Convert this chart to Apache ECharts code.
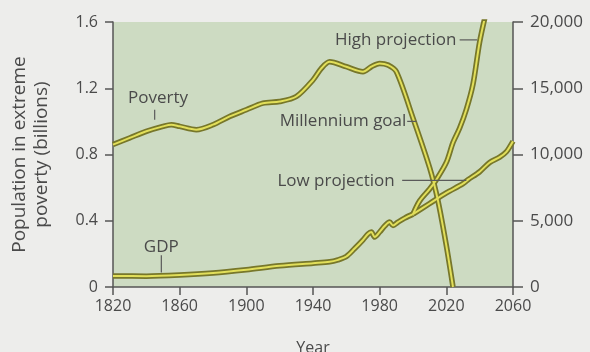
<!DOCTYPE html>
<html><head><meta charset="utf-8">
<script src="https://cdn.jsdelivr.net/npm/echarts@6/dist/echarts.min.js"></script>
<style>html,body{margin:0;padding:0;background:#ededeb;}#c{width:590px;height:352px;}</style>
</head><body><div id="c"></div>
<script>
// Poverty (billions) – left axis
const povertyYears = [1820,1830,1840,1850,1855,1860,1870,1880,1890,1900,1910,1920,1930,1940,1945,1950,1960,1970,1975,1980,1985,1990,2000,2010,2015,2020,2024];
const povertyVals  = [0.86,0.90,0.94,0.97,0.98,0.97,0.95,0.98,1.03,1.07,1.11,1.12,1.15,1.25,1.32,1.36,1.33,1.30,1.33,1.35,1.34,1.30,1.02,0.72,0.52,0.25,0.0];
// GDP per capita – right axis
const gdpYears = [1820,1840,1860,1880,1900,1920,1940,1950,1955,1960,1965,1970,1973,1975,1977,1980,1983,1986,1988,1991,1995,2000];
const gdpVals  = [830,820,900,1050,1300,1600,1800,1900,2050,2300,2900,3550,4000,4150,3770,4150,4600,4900,4650,4900,5200,5500];
const highYears = [2000,2004,2010,2014,2020,2024,2028,2032,2036,2040,2044];
const highVals  = [5500,6500,7400,8100,9400,10900,12000,13400,15300,18500,20800];
const lowYears = [2000,2010,2020,2030,2033,2040,2046,2052,2056,2060];
const lowVals  = [5500,6300,7100,7800,8100,8700,9400,9800,10200,11000];
const xTicks = [1820,1860,1900,1940,1980,2020,2060];
const leftTicks = [0,0.4,0.8,1.2,1.6];
const rightTicks = [0,5000,10000,15000,20000];

const zip = (a,b)=>a.map((x,i)=>[x,b[i]]);
const edge = '#77772a', core = '#e2df5a';
function pair(name, data, yIdx){
  return [
    {name:name+'_e', type:'line', data, yAxisIndex:yIdx, showSymbol:false, smooth:0.3, z:2,
     lineStyle:{color:edge, width:5.5}, silent:true},
    {name, type:'line', data, yAxisIndex:yIdx, showSymbol:false, smooth:0.3, z:3,
     lineStyle:{color:core, width:2}, silent:true}
  ];
}
const txt = '#4a4a4a', axc = '#555';
const chart = echarts.init(document.getElementById('c'));
chart.setOption({
  animation:false,
  backgroundColor:'#ededeb',
  textStyle:{fontFamily:'Open Sans'},
  grid:{left:113,right:77,top:22,bottom:65,show:true,backgroundColor:'#cddbc2',borderWidth:0,
        containLabel:false,outerBoundsMode:'none'},
  xAxis:{type:'value',min:1820,max:2060,interval:40,
    name:'Year',nameLocation:'middle',nameGap:53,nameTextStyle:{color:txt,fontSize:16},
    axisLine:{lineStyle:{color:axc,width:1.5}},axisTick:{length:8,lineStyle:{color:axc,width:1.5}},
    axisLabel:{color:txt,fontSize:16,margin:11,formatter:v=>xTicks.includes(v)?String(v):''},splitLine:{show:false}},
  yAxis:[
    {type:'value',min:0,max:1.6,interval:0.4,position:'left',
     name:'Population in extreme\npoverty (billions)',nameLocation:'middle',nameGap:60,nameRotate:90,
     nameTextStyle:{color:txt,fontSize:19,lineHeight:22},
     axisLine:{show:true,lineStyle:{color:axc,width:1.5}},axisTick:{show:true,length:8,lineStyle:{color:axc,width:1.5}},
     axisLabel:{color:txt,fontSize:16,margin:15,formatter:v=>{const t=leftTicks.find(k=>Math.abs(k-v)<1e-9);return t===undefined?'':(t===0?'0':t.toFixed(1));}},
     splitLine:{show:false}},
    {type:'value',min:0,max:20000,interval:5000,position:'right',
     axisLine:{show:true,lineStyle:{color:axc,width:1.5}},axisTick:{show:true,length:10,lineStyle:{color:axc,width:1.5}},
     axisLabel:{color:txt,fontSize:17,margin:17,formatter:v=>rightTicks.includes(v)?v.toLocaleString('en-US'):''},
     splitLine:{show:false}}
  ],
  series:[
    ...pair('GDP', zip(gdpYears,gdpVals), 1),
    ...pair('Low projection', zip(lowYears,lowVals), 1),
    ...pair('High projection', zip(highYears,highVals), 1),
    ...pair('Poverty', zip(povertyYears,povertyVals), 0)
  ]
});

// annotations (anchored in data coordinates)
function P(x,y,axis){return chart.convertToPixel({xAxisIndex:0,yAxisIndex:axis},[x,y]);}
const g=[];
function label(text,x,y,axis,align){
  const p=P(x,y,axis);
  g.push({type:'text',x:p[0],y:p[1],style:{text,fill:txt,font:'17px "Open Sans"',textAlign:align||'center',textVerticalAlign:'middle'},z:10});
}
function lead(x1,y1,x2,y2,axis){
  const a=P(x1,y1,axis),b=P(x2,y2,axis);
  g.push({type:'line',shape:{x1:a[0],y1:a[1],x2:b[0],y2:b[1]},style:{stroke:'#5a5a5a',lineWidth:1.2},z:9});
}
label('Poverty',1847,1.14,0);
lead(1845,1.07,1845,1.01,0);
label('GDP',1849,3000,1);
lead(1849,2400,1849,1100,1);
label('Millennium goal',1996,1.0,0,'right');
lead(1996.5,1.0,2002,1.0,0);
label('Low projection',1989,8000,1,'right');
lead(1993.5,8050,2032,8050,1);
label('High projection',2026,18650,1,'right');
lead(2028,18650,2038.5,18650,1);
g.push({type:'text',left:0,top:-18,style:{text:'Global poverty and projected GDP growth',fill:'#222',font:'bold 16px "Open Sans"'}});
chart.setOption({graphic:g});
</script></body></html>
